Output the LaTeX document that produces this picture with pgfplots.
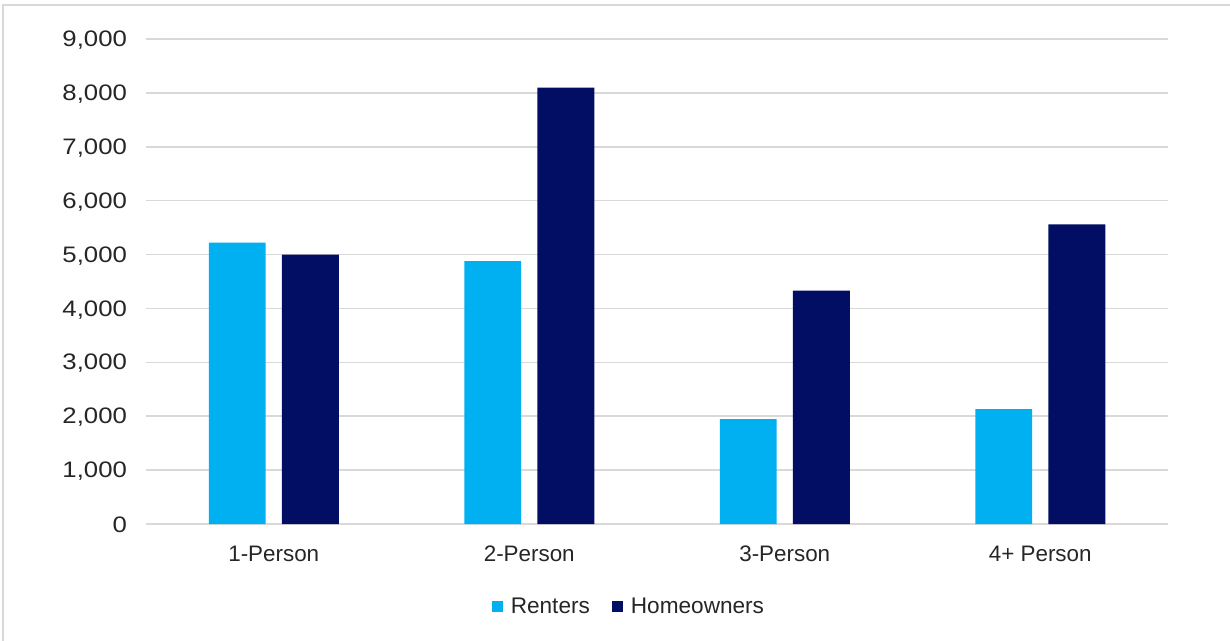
\documentclass[border=0pt]{standalone}
\usepackage{fontspec}
\setmainfont{Liberation Sans}
\newfontfamily\widesans[FakeStretch=1.15]{Liberation Sans}
\usepackage{pgfplots}
\pgfplotsset{compat=1.18}
\definecolor{renters}{RGB}{0,176,240}
\definecolor{owners}{RGB}{2,14,100}
\definecolor{gridgray}{RGB}{217,217,217}

\begin{document}
\begin{tikzpicture}
% page frame
\useasboundingbox (0pt,0pt) rectangle (615pt,-320.5pt);
\draw[gridgray, line width=0.9pt] (1.5pt,-320.5pt) -- (1.5pt,-2.5pt) -- (615pt,-2.5pt);
\begin{axis}[
  at={(73pt,-262pt)}, anchor=south west,
  scale only axis, width=511pt, height=242.5pt,
  ybar, bar width=0.223,
  xmin=-0.5, xmax=3.5, ymin=0, ymax=9000,
  xtick=data,
  xticklabels={1-Person,2-Person,3-Person,4+ Person},
  ytick={0,1000,...,9000},
  scaled y ticks=false,
  /pgf/number format/fixed,
  /pgf/number format/1000 sep={,},
  /pgf/number format/assume math mode=true,
  tick label style={font=\fontsize{11.2}{13}\selectfont, text=black!85},
  y tick label style={xshift=-6pt, yshift=-0.6pt, font=\widesans\fontsize{11.2}{13}\selectfont},
  x tick label style={yshift=-7.5pt},
  ymajorgrids, grid style={gridgray, line width=0.75pt},
  axis line style={draw=none},
  major tick length=0pt,
  tick style={draw=none},
  legend columns=2,
  legend style={at={(0.4735,-0.171)}, anchor=center, draw=none,
    font=\fontsize{11.3}{13}\selectfont, text=black!85,
    /tikz/every even column/.append style={column sep=9pt}},
  legend image code/.code={\fill[#1] (0pt,-2.75pt) rectangle (5.5pt,2.75pt);},
]
\addplot[fill=renters, draw=none, bar shift=-0.1429] coordinates {(0,5220) (1,4880) (2,1945) (3,2130)};
\addplot[fill=owners, draw=none, bar shift=0.1429] coordinates {(0,5000) (1,8100) (2,4330) (3,5560)};
\legend{\hspace{2pt}Renters,\hspace{2pt}Homeowners}
\end{axis}
\end{tikzpicture}
\end{document}
